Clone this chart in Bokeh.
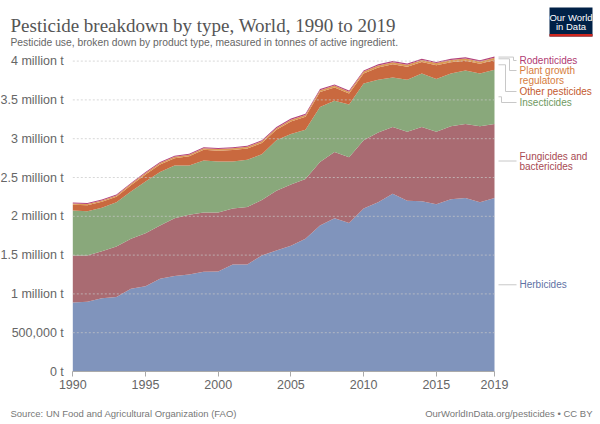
from bokeh.plotting import figure
from bokeh.models import ColumnDataSource, FixedTicker, Range1d
from bokeh.core.properties import value
from bokeh.embed import file_html
from bokeh.resources import INLINE

# ---------------- data (tonnes of active ingredient) ----------------
years = list(range(1990, 2020))
herbicides = [890000, 900000, 945000, 960000, 1065000, 1100000, 1195000, 1230000, 1250000, 1285000,
              1290000, 1380000, 1380000, 1495000, 1560000, 1620000, 1710000, 1880000, 1975000, 1915000,
              2100000, 2180000, 2290000, 2200000, 2195000, 2155000, 2220000, 2235000, 2180000, 2235000]
fungicides = [605000, 595000, 605000, 650000, 645000, 680000, 685000, 745000, 770000, 765000,
              760000, 720000, 740000, 715000, 770000, 790000, 770000, 820000, 855000, 845000,
              880000, 900000, 860000, 890000, 955000, 935000, 940000, 955000, 980000, 955000]
insecticides = [580000, 570000, 560000, 570000, 610000, 670000, 690000, 680000, 635000, 670000,
                655000, 605000, 610000, 590000, 650000, 650000, 635000, 710000, 660000, 680000,
                730000, 680000, 640000, 670000, 690000, 680000, 680000, 690000, 680000, 700000]
other_pesticides = [75000, 77000, 77000, 72000, 81000, 89000, 99000, 94000, 118000, 136000,
                    141000, 150000, 145000, 145000, 134000, 163000, 167000, 192000, 171000, 141000,
                    130000, 158000, 168000, 168000, 147000, 177000, 146000, 126000, 126000, 125000]
plant_growth = [16000, 16000, 16000, 16000, 17000, 18000, 18000, 18000, 19000, 20000,
                20000, 21000, 21000, 21000, 22000, 22000, 23000, 23000, 24000, 24000,
                25000, 26000, 26000, 26000, 27000, 27000, 28000, 28000, 28000, 29000]
rodenticides = [12000, 12000, 12000, 12000, 12000, 13000, 13000, 13000, 13000, 14000,
                14000, 14000, 14000, 14000, 14000, 15000, 15000, 15000, 15000, 15000,
                15000, 16000, 16000, 16000, 16000, 16000, 16000, 16000, 16000, 16000]

series_keys = ["herbicides", "fungicides", "insecticides", "other", "pgr", "rodenticides"]
area_colors = ["#8094bc", "#a96b72", "#89a87b", "#c9693f", "#dc9a55", "#b3437b"]

x_ticks = [1990, 1995, 2000, 2005, 2010, 2015, 2019]
y_ticks = [0, 500000, 1000000, 1500000, 2000000, 2500000, 3000000, 3500000, 4000000]
y_tick_labels = ["0 t", "500,000 t", "1 million t", "1.5 million t", "2 million t",
                 "2.5 million t", "3 million t", "3.5 million t", "4 million t"]

# ---------------- geometry: the frame covers the whole canvas ----------------
W, H = 600, 424
X0_PX, X1_PX = 72.3, 494.0      # page x of 1990 and 2019
Y0_PX = 371.0                   # page y of 0 t
PX_PER_T = 77.6e-6              # pixels per tonne
PX_PER_YEAR = (X1_PX - X0_PX) / 29.0


def dx(px):
    return 1990 + (px - X0_PX) / PX_PER_YEAR


def dy(py):
    return (Y0_PX - py) / PX_PER_T


p = figure(width=W, height=H,
           x_range=Range1d(dx(0), dx(W)), y_range=Range1d(dy(H), dy(0)),
           output_backend="svg", toolbar_location=None,
           min_border=0, min_border_left=0, min_border_right=0,
           min_border_top=0, min_border_bottom=0)
p.outline_line_color = None
p.background_fill_color = "white"
p.border_fill_color = "white"
p.xgrid.visible = False
p.ygrid.visible = False

src = ColumnDataSource(dict(year=years, herbicides=herbicides, fungicides=fungicides,
                            insecticides=insecticides, other=other_pesticides,
                            pgr=plant_growth, rodenticides=rodenticides))
p.varea_stack(stackers=series_keys, x="year", color=area_colors, source=src)

# dotted horizontal gridlines across the chart span only
p.segment(x0=[x_ticks[0]] * len(y_ticks), x1=[x_ticks[-1]] * len(y_ticks), y0=y_ticks, y1=y_ticks,
          line_color="#c8c8c8", line_alpha=0.7, line_width=1, line_dash="2 2")

# axes drawn inside the canvas at fixed data locations
p.xaxis.fixed_location = 0
p.xaxis.ticker = FixedTicker(ticks=x_ticks)
p.xaxis.bounds = (1990, 2019)
p.xaxis.axis_line_color = "#aaaaaa"
p.xaxis.major_tick_line_color = "#aaaaaa"
p.xaxis.major_tick_out = 5
p.xaxis.major_tick_in = 0
p.xaxis.minor_tick_line_color = None
p.xaxis.major_label_text_font = "Liberation Sans"
p.xaxis.major_label_text_font_size = "12.5px"
p.xaxis.major_label_text_color = "#666666"
p.xaxis.major_label_standoff = 3

p.yaxis.fixed_location = 1990
p.yaxis.ticker = FixedTicker(ticks=y_ticks)
p.yaxis.major_label_overrides = {t: s for t, s in zip(y_ticks, y_tick_labels)}
p.yaxis.axis_line_color = None
p.yaxis.major_tick_line_color = None
p.yaxis.minor_tick_line_color = None
p.yaxis.major_label_text_font = "Liberation Sans"
p.yaxis.major_label_text_font_size = "12.5px"
p.yaxis.major_label_text_color = "#666666"
p.yaxis.major_label_standoff = 3

# ---------------- right-hand labels with connectors ----------------
last = [herbicides[-1], fungicides[-1], insecticides[-1], other_pesticides[-1],
        plant_growth[-1], rodenticides[-1]]
cum = [0]
for v in last:
    cum.append(cum[-1] + v)
mids = [(cum[i] + cum[i + 1]) / 2 for i in range(6)]

label_specs = [
    # (series index, text lines, page y of each line (None = centre on connector), elbow x, colour)
    (5, ["Rodenticides"], [60], 513, "#b03a72"),
    (4, ["Plant growth", "regulators"], [70, 80], 509, "#d67c3c"),
    (3, ["Other pesticides"], [91], 505, "#c45a2e"),
    (2, ["Insecticides"], [102], 501, "#6f995f"),
    (1, ["Fungicides and", "bactericides"], None, None, "#a84a52"),
    (0, ["Herbicides"], None, None, "#5f72a5"),
]
for idx, lines, ys, elbow, col in label_specs:
    y_start = mids[idx]
    if elbow is not None:
        y_target = dy(ys[0])
        xs = [dx(498), dx(elbow), dx(elbow), dx(516)]
        yv = [y_start, y_start, y_target, y_target]
        ty = [dy(v) for v in ys]
    else:
        xs = [dx(498), dx(516)]
        yv = [y_start, y_start]
        n = len(lines)
        ty = [y_start - ((i - (n - 1) / 2) * 10) / PX_PER_T for i in range(n)]
    p.line(xs, yv, line_color="#c8c8c8", line_width=1)
    p.text(x=[dx(519)] * len(lines), y=ty, text=lines, text_font=value("Liberation Sans"),
           text_font_size="10px", text_color=col, text_baseline="middle", text_align="left")

# ---------------- titles, logo, footer ----------------
p.text(x=[dx(10)], y=[dy(25)], text=["Pesticide breakdown by type, World, 1990 to 2019"],
       text_font=value("Liberation Serif"), text_font_size="19px", text_color="#555555",
       text_baseline="alphabetic", text_align="left")
p.text(x=[dx(10)], y=[dy(41.5)],
       text=["Pesticide use, broken down by product type, measured in tonnes of active ingredient."],
       text_font=value("Liberation Sans"), text_font_size="10.3px", text_color="#666666",
       text_baseline="alphabetic", text_align="left")

p.quad(left=[dx(549)], right=[dx(592)], top=[dy(7)], bottom=[dy(36)],
       fill_color="#002147", line_color=None)
p.quad(left=[dx(549)], right=[dx(592)], top=[dy(33.5)], bottom=[dy(36)],
       fill_color="#ce261e", line_color=None)
p.text(x=[dx(570.5), dx(570.5)], y=[dy(16.5), dy(26)], text=["Our World", "in Data"],
       text_font=value("Liberation Sans"), text_font_size="9.5px", text_color="white",
       text_align="center", text_baseline="middle")

p.text(x=[dx(10)], y=[dy(413)], text=["Source: UN Food and Agricultural Organization (FAO)"],
       text_font=value("Liberation Sans"), text_font_size="9.5px", text_color="#777777",
       text_baseline="alphabetic", text_align="left")
p.text(x=[dx(592)], y=[dy(413)], text=["OurWorldInData.org/pesticides • CC BY"],
       text_font=value("Liberation Sans"), text_font_size="9.5px", text_color="#777777",
       text_baseline="alphabetic", text_align="right")

open("out.html", "w").write(file_html(p, INLINE))
